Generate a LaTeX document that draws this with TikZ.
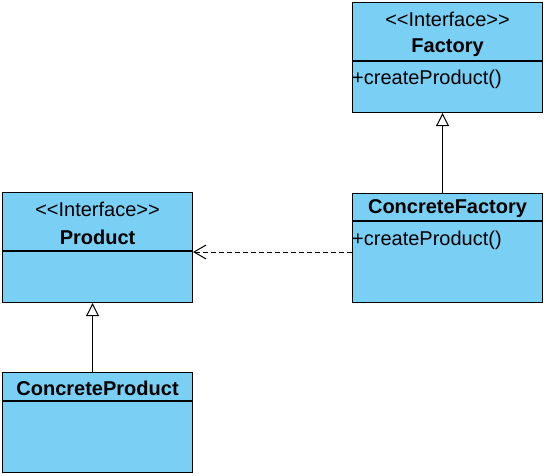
\documentclass[tikz,border=0pt]{standalone}
\usepackage{fontspec}
\setmainfont{Liberation Sans}
\usepackage{tikz}
\usetikzlibrary{arrows.meta}
\definecolor{umlblue}{RGB}{122,207,245}
\newcommand{\umlstereo}[1]{<\kern0pt<#1>\kern0pt>}

\begin{document}
\begin{tikzpicture}[x=1pt, y=-1pt,
    umlclass/.style={draw, fill=umlblue, line width=1.1pt, minimum width=190pt, inner sep=0pt, anchor=north west},
    umltext/.style={font=\fontsize{20}{22}\selectfont, inner sep=0pt},
    realize/.style={line width=1pt, -{Triangle[length=13pt, width=13pt, fill=white]}},
    depend/.style={line width=1pt, dash pattern=on 5pt off 3pt, -{Straight Barb[length=12pt, width=14pt]}}]
            \useasboundingbox (0,0) rectangle (546,476);
            % classes
            \node[umlclass, minimum height=110pt] (factory) at (352,2) {};
            \node[umlclass, minimum height=109pt] (concretefactory) at (352,193) {};
            \node[umlclass, minimum height=110pt] (product) at (2,192) {};
            \node[umlclass, minimum height=100pt] (concreteproduct) at (2,372) {};
            
            \draw[line width=1.1pt] (factory.west |- 0,61) -- (factory.east |- 0,61);
            \draw[line width=1.1pt] (concretefactory.west |- 0,221) -- (concretefactory.east |- 0,221);
            \draw[line width=1.1pt] (product.west |- 0,251) -- (product.east |- 0,251);
            \draw[line width=1.1pt] (concreteproduct.west |- 0,401) -- (concreteproduct.east |- 0,401);
            
            % texts
            \node[umltext] (factorystereo) at (factory.north |- 0,19) {\umlstereo{Interface}};
            \node[umltext, font=\fontsize{20}{22}\selectfont\bfseries] (factoryname) at (factory.north |- 0,48) {Factory};
            \node[umltext, anchor=west] (factoryop) at (factory.west |- 0,79) {+createProduct()};
            \node[umltext, font=\fontsize{20}{22}\selectfont\bfseries] (concretefactoryname) at (concretefactory.north |- 0,209) {ConcreteFactory};
            \node[umltext, anchor=west] (concretefactoryop) at (concretefactory.west |- 0,240) {+createProduct()};
            \node[umltext] (productstereo) at (product.north |- 0,209) {\umlstereo{Interface}};
            \node[umltext, font=\fontsize{20}{22}\selectfont\bfseries] (productname) at (product.north |- 0,237) {Product};
            \node[umltext, font=\fontsize{20}{22}\selectfont\bfseries] (concreteproductname) at (concreteproduct.north |- 0,388) {ConcreteProduct};
            
            % relations
            \draw[realize] ([xshift=-5pt]concretefactory.north) -- ([xshift=-5pt]factory.south);
            \draw[realize] ([xshift=-5pt]concreteproduct.north) -- ([xshift=-5pt]product.south);
            \draw[depend] (concretefactory.west |- 0,252) -- (product.east |- 0,252);
        \end{tikzpicture}
\end{document}
